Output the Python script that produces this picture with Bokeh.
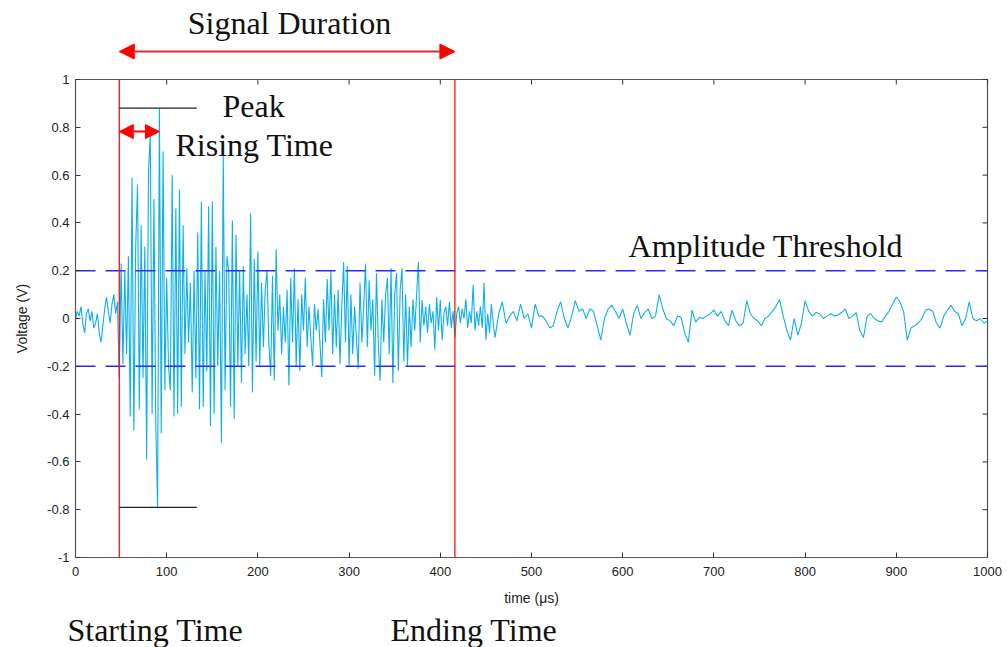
import numpy as np
from bokeh.plotting import figure
from bokeh.models import (Label, Arrow, NormalHead, FixedTicker, LinearAxis, Range1d,
                          ColumnDataSource)
from bokeh.embed import file_html
from bokeh.resources import INLINE

# ---------------- data ----------------
# fine part: t = 0 .. 458 us, step 2 us
volt_pre = [0.00, 0.03, 0.01, 0.05, -0.02, -0.06, 0.02, 0.04, -0.01, 0.03, -0.04, -0.02,
            0.02, -0.06, -0.10, -0.03, 0.04, 0.09, 0.03, -0.02, 0.06, 0.10, 0.02, 0.07]
volt_rise = [-0.25, 0.23, -0.19, 0.20, -0.15, 0.26, -0.41, 0.59, -0.47, 0.30, 0.56, -0.38, 0.39,
             -0.25, 0.30, -0.59, 0.61, 0.77, -0.40, 0.50, -0.43, -0.79, 0.88, -0.48, 0.70, -0.30]
volt_100 = [0.17, -0.20, -0.30, 0.60, -0.41, 0.46, -0.40, 0.54, -0.37, 0.39, -0.15, 0.21, -0.10,
            0.15, -0.31, 0.20, -0.25, 0.36, -0.38, 0.49, -0.37, 0.20, -0.22, 0.47, -0.45, 0.49,
            -0.40, 0.30, -0.20, 0.20, -0.52, 0.68, -0.30, 0.26, 0.20, -0.37, 0.41, -0.42, 0.35,
            -0.20, 0.20, -0.27, 0.22, -0.15, 0.10, -0.20, 0.44, -0.31, 0.25, -0.18]
volt_200 = [0.28, -0.20, 0.15, -0.12, 0.12, 0.20, -0.10, -0.24, 0.18, -0.26, 0.29, -0.05, 0.10,
            -0.15, 0.05, -0.10, 0.12, -0.28, 0.17, -0.10, 0.21, -0.20, 0.08, -0.22, 0.10, -0.05,
            0.17, -0.12, 0.05, -0.08, -0.20, 0.06, -0.05, 0.04, -0.10, -0.245, 0.08, -0.10, 0.165,
            -0.05, 0.20, -0.15, 0.10, -0.12, 0.12, -0.19, 0.05, 0.235, -0.10, 0.22]
volt_300 = [-0.20, 0.10, -0.15, 0.05, -0.08, -0.21, 0.15, -0.10, 0.05, 0.23, -0.12, 0.16, -0.05,
            0.08, -0.24, 0.19, -0.10, -0.26, 0.08, -0.10, 0.10, 0.17, -0.15, 0.21, -0.27, 0.10,
            0.19, -0.22, 0.12, 0.21, -0.18, 0.10, -0.20, 0.05, -0.12, 0.08, -0.05, 0.10, 0.235,
            -0.10, 0.077, -0.03, 0.05, -0.06, 0.06, -0.02, 0.03, -0.13, 0.09, -0.05]
volt_400 = [0.077, -0.09, 0.02, 0.05, -0.03, 0.07, -0.04, 0.03, -0.08, 0.02, 0.05, -0.02, 0.04,
            0.00, 0.08, -0.04, 0.03, -0.02, 0.14, -0.05, 0.03, -0.03, 0.05, -0.04, 0.15, -0.09,
            0.02, -0.06, 0.06, -0.02]
# coarse part: t = 460 .. 1000 us, step 4 us
volt_tail = [-0.08, 0.02, 0.07, -0.02, 0.01, 0.03, -0.01, 0.06, 0.00, 0.02, -0.04, 0.06, 0.01,
             0.01, -0.01, -0.04, -0.03, 0.03, 0.07, 0.00, -0.04, 0.01, 0.075, 0.03, 0.04, 0.00,
             0.04, 0.03, -0.03, -0.09, 0.00, 0.04, 0.055, 0.03, 0.00, 0.04, -0.02, -0.07, 0.02,
             0.055, 0.00, 0.025, 0.04, 0.00, 0.01, 0.10, 0.04, 0.00, -0.01, -0.03, 0.01, 0.005,
             -0.06, -0.10, 0.035, -0.015, 0.005, 0.00, 0.01, 0.02, 0.035, 0.01, 0.03, -0.01, -0.03,
             0.035, -0.01, -0.03, -0.02, 0.075, 0.02, 0.00, -0.01, -0.03, 0.00, 0.01, 0.03, 0.05,
             0.08, 0.01, -0.05, -0.09, 0.00, -0.07, -0.02, 0.075, 0.03, 0.01, 0.025, 0.02, 0.00,
             0.01, 0.02, 0.01, 0.015, 0.025, 0.04, 0.00, 0.01, 0.025, -0.05, -0.08, 0.01, 0.02,
             0.00, -0.01, -0.015, 0.01, 0.03, 0.06, 0.09, 0.07, 0.03, -0.09, -0.04, -0.03, -0.02,
             0.00, 0.035, 0.04, 0.03, -0.02, -0.04, 0.01, 0.035, 0.055, 0.03, 0.02, -0.03, 0.00,
             0.07, 0.00, -0.01, 0.00, -0.02, -0.01]

volt_fine = volt_pre + volt_rise + volt_100 + volt_200 + volt_300 + volt_400
time_fine = [2 * i for i in range(len(volt_fine))]
time_tail = [460 + 4 * i for i in range(len(volt_tail))]
time_us = time_fine + time_tail
voltage = volt_fine + volt_tail

threshold = 0.2
start_time = 48
end_time = 416
peak_end_time = 133
x_ticks = [0, 100, 200, 300, 400, 500, 600, 700, 800, 900, 1000]
y_ticks = [-1, -0.8, -0.6, -0.4, -0.2, 0, 0.2, 0.4, 0.6, 0.8, 1]
y_tick_labels = ["-1", "-0.8", "-0.6", "-0.4", "-0.2", "0", "0.2", "0.4", "0.6", "0.8", "1"]
x_min, x_max = 0, 1000
y_min, y_max = -1, 1

# ---------------- layout constants (pixels) ----------------
W, H = 1007, 647
left_px, right_px, top_px, bottom_px = 75, 987, 79, 557
sx = (right_px - left_px) / (x_max - x_min)
sy = (bottom_px - top_px) / (y_max - y_min)
xr = Range1d(x_min - left_px / sx, x_max + (W - right_px) / sx)
yr = Range1d(y_min - (H - bottom_px) / sy, y_max + top_px / sy)

p = figure(width=W, height=H, output_backend="svg", toolbar_location=None, title=None,
           x_range=xr, y_range=yr, x_axis_location=None, y_axis_location=None,
           min_border=0, min_border_left=0, min_border_right=0, min_border_top=0,
           min_border_bottom=0)
p.grid.visible = False
p.outline_line_color = None
p.background_fill_color = "white"
p.border_fill_color = "white"

axis_col = "#555555"
tick_font = "Liberation Sans"

def style(ax):
    ax.major_tick_in = 5
    ax.major_tick_out = 0
    ax.minor_tick_in = 0
    ax.minor_tick_out = 0
    ax.axis_line_color = axis_col
    ax.axis_line_width = 1.2
    ax.major_tick_line_color = "#333333"
    ax.major_label_text_font = tick_font
    ax.major_label_text_font_size = "13px"
    ax.major_label_text_color = "#222222"
    ax.axis_label_text_font = tick_font
    ax.axis_label_text_font_size = "14px"
    ax.axis_label_text_font_style = "normal"
    ax.axis_label_text_color = "#222222"

xaxis = LinearAxis(fixed_location=y_min, bounds=(x_min, x_max),
                   ticker=FixedTicker(ticks=x_ticks), axis_label="time (\u03bcs)")
style(xaxis)
xaxis.major_label_standoff = 9
xaxis.axis_label_standoff = 11
p.add_layout(xaxis, "below")

yaxis = LinearAxis(fixed_location=x_min, bounds=(y_min, y_max),
                   ticker=FixedTicker(ticks=y_ticks), axis_label="Voltage (V)")
style(yaxis)
yaxis.major_label_overrides = {t: l for t, l in zip(y_ticks, y_tick_labels)}
yaxis.major_label_standoff = 6
yaxis.axis_label_standoff = 14
p.add_layout(yaxis, "left")

# top and right edges of the box with inward ticks
tick_dy = 5 / sy
tick_dx = 5 / sx
p.segment(x0=[x_min, x_max], y0=[y_max, y_min], x1=[x_max, x_max], y1=[y_max, y_max],
          line_color=axis_col, line_width=1.2)
p.segment(x0=x_ticks, y0=[y_max] * len(x_ticks), x1=x_ticks,
          y1=[y_max - tick_dy] * len(x_ticks), line_color="#333333", line_width=1)
p.segment(x0=[x_max] * len(y_ticks), y0=y_ticks, x1=[x_max - tick_dx] * len(y_ticks),
          y1=y_ticks, line_color="#333333", line_width=1)

# signal
src = ColumnDataSource(dict(t=time_us, v=voltage))
p.line("t", "v", source=src, line_color="#0db0ea", line_width=1.1)

# threshold lines
p.segment(x0=[x_min, x_min], y0=[threshold, -threshold], x1=[x_max, x_max],
          y1=[threshold, -threshold], line_color="#2a2aff", line_width=1.5, line_dash="20 10")
# start / end lines
p.segment(x0=[start_time, end_time], y0=[y_min, y_min], x1=[start_time, end_time],
          y1=[y_max, y_max], line_color="#ff1010", line_width=1.3)

# peak markers
peak_v = max(voltage)
min_v = min(voltage)
p.segment(x0=[start_time, start_time], y0=[peak_v, min_v],
          x1=[peak_end_time, peak_end_time], y1=[peak_v, min_v],
          line_color="#222222", line_width=1.2)

# arrows
peak_t = time_us[voltage.index(peak_v)]
p.add_layout(Arrow(x_start=start_time, x_end=end_time, y_start=1.117, y_end=1.117,
                   line_color="#d03030", line_width=2,
                   start=NormalHead(size=15, fill_color="#ff0000", line_color="#ff0000"),
                   end=NormalHead(size=15, fill_color="#ff0000", line_color="#ff0000")))
p.add_layout(Arrow(x_start=start_time, x_end=peak_t, y_start=0.782, y_end=0.782,
                   line_color="#ff0000", line_width=2,
                   start=NormalHead(size=14, fill_color="#ff0000", line_color="#ff0000"),
                   end=NormalHead(size=14, fill_color="#ff0000", line_color="#ff0000")))

serif = "Liberation Serif"
shift = 11 / sy
labels = [
    ("Signal Duration", 234.6, 1.192, "center"),
    ("Peak", 161.2, 0.845, "left"),
    ("Rising Time", 109.6, 0.678, "left"),
    ("Amplitude Threshold", 606.4, 0.259, "left"),
    ("Starting Time", -8.8, -1.35, "left"),
    ("Ending Time", 345.4, -1.35, "left"),
]
for txt, xv, yv, al in labels:
    p.add_layout(Label(x=xv, y=yv + shift, text=txt, text_font=serif, text_font_size="32px",
                       text_color="#111111", text_align=al, text_baseline="alphabetic"))

open("out.html", "w").write(file_html(p, INLINE))
